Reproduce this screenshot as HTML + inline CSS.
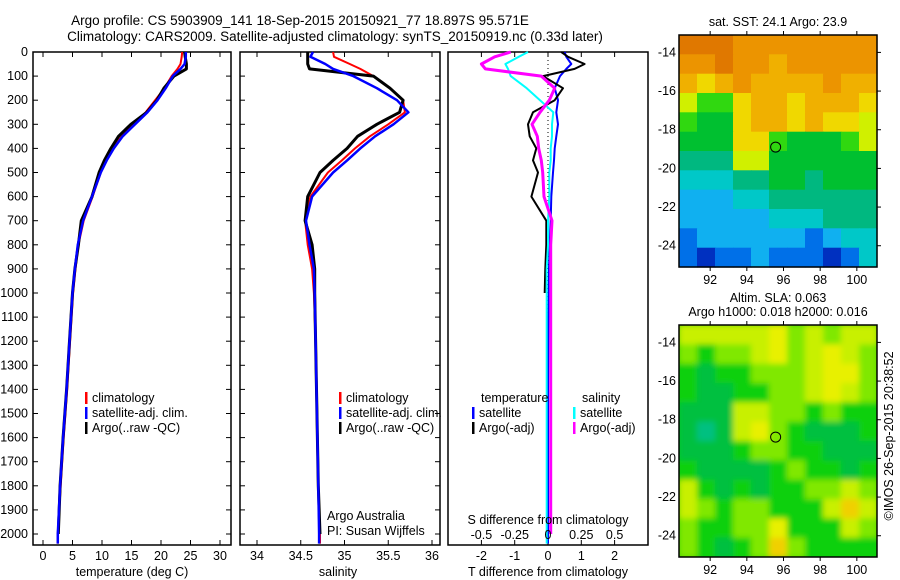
<!DOCTYPE html>
<html><head><meta charset="utf-8">
<style>
html,body{margin:0;padding:0;background:#fff;}
svg{display:block;font-family:"Liberation Sans",sans-serif;}
text{font-size:12.5px;fill:#000;}
</style></head>
<body>
<svg id="fig" width="900" height="580" viewBox="0 0 900 580" xmlns="http://www.w3.org/2000/svg">
<defs>
<filter id="smooth" x="-5%" y="-5%" width="110%" height="110%"><feGaussianBlur stdDeviation="3"/></filter>
<clipPath id="slaClip"><rect x="679" y="325" width="198" height="232"/></clipPath>
</defs>
<text x="300" y="25" text-anchor="middle" style="font-size:13.5px">Argo profile: CS 5903909_141 18-Sep-2015 20150921_77 18.897S 95.571E</text>
<text x="335" y="41" text-anchor="middle" style="font-size:13.5px">Climatology: CARS2009. Satellite-adjusted climatology: synTS_20150919.nc (0.33d later)</text>
<text x="778" y="26" text-anchor="middle">sat. SST: 24.1 Argo: 23.9</text>
<text x="778" y="302" text-anchor="middle">Altim. SLA: 0.063</text>
<text x="778" y="316" text-anchor="middle">Argo h1000: 0.018 h2000: 0.016</text>
<text transform="translate(893,436) rotate(-90)" text-anchor="middle">©IMOS 26-Sep-2015 20:38:52</text>
<g id="plots"></g>
</svg>
<script>
// ---- profile data ----
const depths = [0,20,50,70,100,150,200,250,300,350,400,450,500,600,700,800,900,1000,1200,1400,1600,1800,2000,2040];
const tClim  = [23.6,23.5,23.3,22.8,21.8,20.6,19.0,17.4,15.4,13.3,11.9,10.7,9.8,8.4,6.9,6.0,5.5,5.1,4.6,4.1,3.5,3.0,2.5,2.5];
const tSat   = [24.2,24.2,24.0,23.3,22.0,20.8,19.4,17.7,15.6,13.5,12.0,10.8,9.8,8.3,6.8,5.9,5.4,5.0,4.5,4.0,3.4,2.9,2.5,2.5];
const tArgo  = [24.0,24.1,24.3,24.3,22.2,20.5,19.3,17.6,14.9,12.8,11.5,10.4,9.5,8.3,6.5,6.0,5.4,5.0,4.5,4.0,3.4,2.9,2.6,2.6];
const sClim  = [34.87,34.88,35.06,35.18,35.33,35.52,35.67,35.69,35.50,35.29,35.12,34.97,34.81,34.61,34.55,34.58,34.63,34.65,34.67,34.68,34.69,34.70,34.72,34.72];
const sSat   = [34.64,34.61,34.78,34.87,35.10,35.37,35.60,35.73,35.56,35.35,35.18,35.03,34.87,34.63,34.56,34.60,34.65,34.66,34.67,34.68,34.69,34.70,34.71,34.71];
const sArgo  = [34.58,34.58,34.58,34.60,35.33,35.52,35.67,35.63,35.37,35.15,35.03,34.87,34.72,34.58,34.55,34.63,34.66,34.66,34.67,34.68,34.69,34.70,34.72,34.72];
const dTSat  = [0.50,0.55,0.70,0.55,0.36,0.20,0.30,0.25,0.30,0.25,0.20,0.18,0.15,0.10,0.08,0.05,0.03,0.02,0.01,0.0,0.0,0.0,0.0,0.0];
const dTArgo = [0.40,0.60,1.10,0.80,-0.15,0.45,0.20,-0.45,-0.60,-0.55,-0.35,-0.45,-0.30,-0.50,-0.05,-0.05,-0.08,-0.10,-0.05,-0.03,-0.02,-0.02,0.0,0.0];
const dSSat  = [-0.15,-0.22,-0.32,-0.30,-0.28,-0.16,-0.06,0.04,0.03,0.03,0.02,0.02,0.01,0.01,0.0,0.0,-0.01,-0.01,-0.01,-0.01,-0.01,-0.01,-0.01,-0.01];
const dSArgo = [-0.28,-0.40,-0.50,-0.47,-0.05,0.05,0.01,-0.06,-0.12,-0.08,-0.07,-0.05,-0.04,-0.03,0.03,0.02,0.02,0.02,0.02,0.02,0.02,0.02,0.02,0.02];
const depthTicks = [0,100,200,300,400,500,600,700,800,900,1000,1100,1200,1300,1400,1500,1600,1700,1800,1900,2000];
const tTicks = [0,5,10,15,20,25,30];
const sTicks = [34,34.5,35,35.5,36];
const sTickLabels = ["34","34.5","35","35.5","36"];
const dTTicks = [-2,-1,0,1,2];
const dSTicks = [-0.5,-0.25,0,0.25,0.5];
const dSTickLabels = ["-0.5","-0.25","0","0.25","0.5"];
// ---- map data (levels) ----
const latTicks = [-14,-16,-18,-20,-22,-24];
const lonTicks = [92,94,96,98,100];
const sstLevels = [
[11,11,11,10,10,10,10,10,10,10,10],
[10,10,11,10,10,9,10,10,10,10,10],
[9,8,9,10,9,9,9,9,10,9,9],
[7,6,6,8,9,9,8,9,9,9,8],
[6,5,5,8,9,9,8,9,8,8,7],
[5,5,5,8,8,6,5,5,5,6,7],
[4,4,4,7,7,5,5,5,5,5,5],
[3,3,3,4,4,5,5,4,5,5,5],
[2,2,2,3,3,4,4,4,4,4,4],
[2,2,2,2,2,3,3,3,4,4,4],
[1,2,2,2,2,2,2,1,2,3,3],
[1,0,1,1,2,1,1,1,0,1,3]];
const slaLevels = [
[4,4,4,4,4,5,3,4,3,4,4],
[3,2,3,3,4,5,3,4,5,4,3],
[2,1,2,2,3,3,3,4,5,5,3],
[2,1,1,2,2,3,3,4,5,4,3],
[1,1,1,4,4,3,3,2,3,2,2],
[1,0,1,4,5,3,2,1,1,1,2],
[1,1,1,2,3,3,2,2,1,1,1],
[2,1,1,1,1,2,3,2,2,1,2],
[4,2,1,2,1,2,2,3,3,4,3],
[4,3,2,3,3,2,2,2,4,6,4],
[3,2,2,3,3,5,2,2,2,4,3],
[3,2,1,2,3,6,3,2,2,2,2]];
const sstColors = ["#0030c0","#0070e8","#10b0f0","#00c8c8","#00b880","#00c030","#30d810","#d0f000","#f0d800","#f0b000","#ec9400","#e07800"];
const slaColors = ["#00c080","#00c040","#10d010","#80e800","#c8f000","#e8f000","#f0d000"];

const NS="http://www.w3.org/2000/svg";
const g=document.getElementById('plots');
function mk(tag,attrs,parent){const e=document.createElementNS(NS,tag);for(const k in attrs)e.setAttribute(k,attrs[k]);(parent||g).appendChild(e);return e;}
function txt(s,x,y,anchor,size){const e=mk('text',{x:x,y:y,'text-anchor':anchor||'start'});if(size)e.style.fontSize=size+'px';e.textContent=s;return e;}
const yD=d=>52+d*0.241;
const PB=545;
const xT=v=>43+5.9*v;
const xS=v=>257+87.5*(v-34);
const xDT=v=>548+33.3*v;
const xDS=v=>548+133.2*v;

function frame(x0,x1,name){const r=mk('rect',{x:x0,y:52,width:x1-x0,height:PB-52,fill:'none',stroke:'#000','stroke-width':1.5});}
function line(xf,vals,color,w,name,n){let p='';for(let i=0;i<(n||vals.length);i++){p+=(i?'L':'M')+xf(vals[i]).toFixed(1)+','+yD(depths[i]).toFixed(1);}const e=mk('path',{d:p,fill:'none',stroke:color,'stroke-width':w,'stroke-linejoin':'round'});}
function xticks(xf,ticks,labels,name){ticks.forEach((t,i)=>{const x=xf(t);mk('line',{x1:x,x2:x,y1:52,y2:57,stroke:'#000'});mk('line',{x1:x,x2:x,y1:PB,y2:PB-5,stroke:'#000'});const e=txt(labels?labels[i]:String(t),x,560,'middle');});}
function yticks(x0,x1){depthTicks.forEach(d=>{const y=yD(d);mk('line',{x1:x0,x2:x0+5,y1:y,y2:y,stroke:'#000'});mk('line',{x1:x1,x2:x1-5,y1:y,y2:y,stroke:'#000'});});}

// panel 1
frame(33,231,'temperature-panel');
yticks(33,231);
depthTicks.forEach(d=>{const e=txt(String(d),28,yD(d)+4,'end');});
xticks(xT,tTicks,null,'temperature-tick-label');
line(xT,tClim,'#ff0000',2,'temp-climatology-line');
line(xT,tArgo,'#000',3,'temp-argo-line',23);
line(xT,tSat,'#0000ff',2.5,'temp-satellite-line');
let e=txt('temperature (deg C)',132,576,'middle');

// panel 2
frame(240,440,'salinity-panel');
yticks(240,440);
xticks(xS,sTicks,sTickLabels,'salinity-tick-label');
line(xS,sClim,'#ff0000',2,'sal-climatology-line');
line(xS,sArgo,'#000',3,'sal-argo-line',23);
line(xS,sSat,'#0000ff',2.5,'sal-satellite-line');
e=txt('salinity',338,576,'middle');
e=txt('Argo Australia',327,520);
e=txt('PI: Susan Wijffels',327,535);

// panel 3
frame(448,648,'difference-panel');
xticks(xDT,dTTicks,null,'t-diff-tick-label');
e=mk('line',{x1:xDT(0),x2:xDT(0),y1:52,y2:PB,stroke:'#000','stroke-dasharray':'1,3'});
line(xDT,dTSat,'#0000ff',2,'t-diff-satellite-line');
line(xDT,dTArgo,'#000',2,'t-diff-argo-line',18);
line(xDS,dSSat,'#00ffff',2,'s-diff-satellite-line');
line(xDS,dSArgo,'#ff00ff',3,'s-diff-argo-line',23);
dSTicks.forEach((t,i)=>{const el=txt(dSTickLabels[i],xDS(t),539,'middle');});
e=txt('S difference from climatology',548,524,'middle');
e=txt('T difference from climatology',548,576,'middle');

// legends
function legend(x,y,color,label,name){mk('rect',{x:x,y:y-10,width:2.5,height:12,fill:color});const el=txt(label,x+7,y);}
legend(85,402,'#ff0000','climatology','legend-climatology');
legend(85,417,'#0000ff','satellite-adj. clim.','legend-satellite-adj');
legend(85,432,'#000','Argo(..raw -QC)','legend-argo');
legend(339,402,'#ff0000','climatology','legend-sal-climatology');
legend(339,417,'#0000ff','satellite-adj. clim.','legend-sal-satellite-adj');
legend(339,432,'#000','Argo(..raw -QC)','legend-sal-argo');
e=txt('temperature',481,402);
e=txt('salinity',582,402);
legend(472,417,'#0000ff','satellite','legend-t-satellite');
legend(472,432,'#000','Argo(-adj)','legend-t-argo');
legend(573,417,'#00ffff','satellite','legend-s-satellite');
legend(573,432,'#ff00ff','Argo(-adj)','legend-s-argo');

// maps
const lon0=90.3,lon1=101.1,lat0=-13.1,lat1=-25.1;
function drawMap(top,bottom,levels,colors,name,smooth){
  const L=679,R=877;
  const xL=v=>L+(v-lon0)/(lon1-lon0)*(R-L);
  const yL=v=>top+(v-lat0)/(lat1-lat0)*(bottom-top);
  const rows=levels.length,cols=levels[0].length;
  const dLon=(lon1-lon0)/cols,dLat=(lat1-lat0)/rows;
  let holder=g;
  if(smooth){const clip=mk('g',{'clip-path':'url(#slaClip)'});holder=mk('g',{filter:'url(#smooth)'},clip);
    mk('rect',{x:L-20,y:top-20,width:R-L+40,height:bottom-top+40,fill:colors[2]},holder);}
  for(let r=0;r<rows;r++)for(let c=0;c<cols;c++){
    const x=xL(lon0+c*dLon),y=yL(lat0+r*dLat);
    const cell=mk('rect',{x:x.toFixed(1),y:y.toFixed(1),width:(xL(lon0+(c+1)*dLon)-x+0.6).toFixed(1),height:(yL(lat0+(r+1)*dLat)-y+0.6).toFixed(1),fill:colors[levels[r][c]]},holder);
    
    
  }
  const fr=mk('rect',{x:L,y:top,width:R-L,height:bottom-top,fill:'none',stroke:'#000','stroke-width':1.5});
  
  lonTicks.forEach(t=>{const x=xL(t);mk('line',{x1:x,x2:x,y1:top,y2:top-4,stroke:'#000'});mk('line',{x1:x,x2:x,y1:bottom,y2:bottom+4,stroke:'#000'});const el=txt(String(t),x,bottom+17,'middle');});
  latTicks.forEach(t=>{const y=yL(t);mk('line',{x1:R,x2:R+4,y1:y,y2:y,stroke:'#000'});const el=txt(String(t),676,y+4,'end');});
  const c=mk('circle',{cx:xL(95.571),cy:yL(-18.897),r:5,fill:'none',stroke:'#000','stroke-width':1});
  
}
drawMap(35,267,sstLevels,sstColors,'sst-map',false);
drawMap(325,557,slaLevels,slaColors,'sla-map',true);
</script>
</body></html>
